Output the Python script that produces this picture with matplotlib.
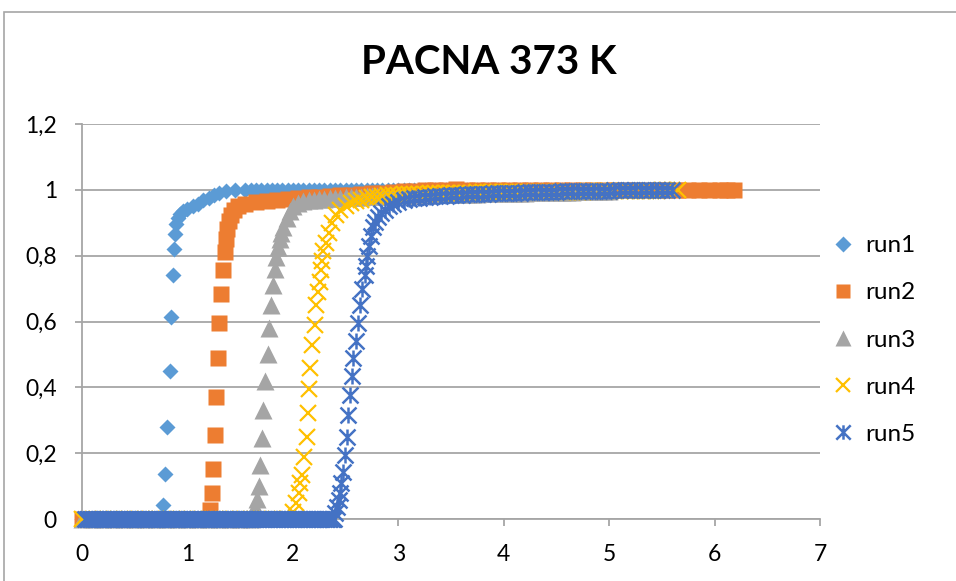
import matplotlib
matplotlib.use("Agg")
import matplotlib.pyplot as plt
from matplotlib.path import Path
from matplotlib.patches import Rectangle
from matplotlib.ticker import FuncFormatter

plt.rcParams['font.family'] = ['Lato', 'DejaVu Sans']

title = "PACNA 373 K"
labels = ["run1", "run2", "run3", "run4", "run5"]
colors = ["#5B9BD5", "#ED7D31", "#A5A5A5", "#FFC000", "#4472C4"]

# x of the points lying on y = 0 before each run takes off
run1_zero_x = [0.0, 0.05, 0.1, 0.15, 0.2, 0.25, 0.3, 0.35, 0.4, 0.45, 0.5, 0.55,
               0.6, 0.65, 0.7, 0.75]
run2_zero_x = [0.0, 0.1, 0.2, 0.3, 0.4, 0.5, 0.6, 0.7, 0.8, 0.9, 1.0, 1.1, 1.15]
run3_zero_x = [0.0, 0.1, 0.2, 0.3, 0.4, 0.5, 0.6, 0.7, 0.8, 0.9, 1.0, 1.1, 1.2,
               1.3, 1.4, 1.5, 1.6]
run4_zero_x = [0.0, 0.1, 0.2, 0.3, 0.4, 0.5, 0.6, 0.7, 0.8, 0.9, 1.0, 1.1, 1.2,
               1.3, 1.4, 1.5, 1.6, 1.7, 1.8, 1.9, 1.95]
run5_zero_x = [0.03, 0.045, 0.06, 0.075, 0.09, 0.105, 0.12, 0.135, 0.15, 0.165,
               0.18, 0.195, 0.21, 0.225, 0.24, 0.255, 0.27, 0.285, 0.30, 0.315,
               0.33, 0.345, 0.36, 0.375, 0.39, 0.405, 0.42, 0.435, 0.45, 0.465,
               0.48, 0.495, 0.51, 0.525, 0.54, 0.555, 0.57, 0.585, 0.60, 0.615,
               0.63, 0.645, 0.66, 0.675, 0.69, 0.705, 0.72, 0.735, 0.75, 0.765,
               0.78, 0.795, 0.81, 0.825, 0.84, 0.855, 0.87, 0.885, 0.90, 0.915,
               0.93, 0.945, 0.96, 0.975, 0.99, 1.005, 1.02, 1.035, 1.05, 1.065,
               1.08, 1.095, 1.11, 1.125, 1.14, 1.155, 1.17, 1.185, 1.20, 1.215,
               1.23, 1.245, 1.26, 1.275, 1.29, 1.305, 1.32, 1.335, 1.35, 1.365,
               1.38, 1.395, 1.41, 1.425, 1.44, 1.455, 1.47, 1.485, 1.50, 1.515,
               1.53, 1.545, 1.56, 1.575, 1.59, 1.605, 1.62, 1.635, 1.65, 1.665,
               1.68, 1.695, 1.71, 1.725, 1.74, 1.755, 1.77, 1.785, 1.80, 1.815,
               1.83, 1.845, 1.86, 1.875, 1.89, 1.905, 1.92, 1.935, 1.95, 1.965,
               1.98, 1.995, 2.01, 2.025, 2.04, 2.055, 2.07, 2.085, 2.10, 2.115,
               2.13, 2.145, 2.16, 2.175, 2.19, 2.205, 2.22, 2.235, 2.25, 2.265,
               2.28, 2.295, 2.31, 2.325, 2.34, 2.355, 2.37, 2.38, 2.39]

# rise and slow approach to 1 (x, y)
run1_pts = [(0.773, 0.043), (0.79, 0.136), (0.81, 0.278), (0.83, 0.45),
            (0.84, 0.615), (0.86, 0.742), (0.875, 0.82), (0.885, 0.865),
            (0.895, 0.895), (0.91, 0.915), (0.93, 0.928), (0.96, 0.937),
            (1.0, 0.943), (1.05, 0.95), (1.1, 0.958), (1.15, 0.968),
            (1.2, 0.976), (1.25, 0.985), (1.3, 0.99), (1.37, 0.995),
            (1.45, 0.998), (1.55, 1.0)]
run2_pts = [(1.21, 0.027), (1.23, 0.078), (1.24, 0.152), (1.26, 0.255),
            (1.27, 0.37), (1.29, 0.49), (1.30, 0.595), (1.32, 0.684),
            (1.34, 0.755), (1.355, 0.81), (1.365, 0.85), (1.375, 0.88),
            (1.39, 0.905), (1.41, 0.925), (1.44, 0.94), (1.48, 0.95),
            (1.55, 0.958), (1.65, 0.963), (1.75, 0.966), (1.85, 0.969),
            (1.95, 0.972), (2.05, 0.975), (2.15, 0.977), (2.25, 0.979),
            (2.35, 0.981), (2.45, 0.983), (2.55, 0.985), (2.65, 0.987),
            (2.75, 0.989), (2.85, 0.991), (2.95, 0.993), (3.05, 0.995),
            (3.15, 0.997), (3.25, 0.999), (3.35, 1.0), (3.45, 1.001),
            (3.55, 1.002)]
run3_pts = [(1.645, 0.037), (1.66, 0.06), (1.675, 0.1), (1.69, 0.165),
            (1.71, 0.245), (1.72, 0.33), (1.74, 0.42), (1.76, 0.5),
            (1.77, 0.58), (1.79, 0.65), (1.81, 0.71), (1.83, 0.76),
            (1.84, 0.795), (1.86, 0.825), (1.875, 0.85), (1.89, 0.87),
            (1.91, 0.888), (1.94, 0.915), (1.97, 0.935), (2.0, 0.952),
            (2.05, 0.96), (2.1, 0.965), (2.15, 0.968), (2.2, 0.97),
            (2.25, 0.972), (2.3, 0.973), (2.35, 0.974), (2.4, 0.975),
            (2.45, 0.976), (2.5, 0.977), (2.55, 0.978), (2.6, 0.979),
            (2.65, 0.979), (2.7, 0.98), (2.75, 0.98), (2.8, 0.981),
            (2.85, 0.981), (2.9, 0.982), (2.95, 0.982), (3.0, 0.983),
            (3.05, 0.983), (3.1, 0.984), (3.15, 0.984), (3.2, 0.985),
            (3.25, 0.985), (3.3, 0.985), (3.35, 0.986), (3.4, 0.986),
            (3.45, 0.986), (3.5, 0.987), (3.55, 0.987), (3.6, 0.987),
            (3.65, 0.988), (3.7, 0.988), (3.75, 0.988), (3.8, 0.989),
            (3.85, 0.989), (3.9, 0.989), (3.95, 0.99), (4.0, 0.99),
            (4.05, 0.99), (4.1, 0.991), (4.15, 0.991), (4.2, 0.991),
            (4.25, 0.992), (4.3, 0.992), (4.35, 0.992), (4.4, 0.993),
            (4.45, 0.993), (4.5, 0.993), (4.55, 0.994), (4.6, 0.994),
            (4.65, 0.994), (4.7, 0.995), (4.75, 0.995), (4.8, 0.995),
            (4.85, 0.996), (4.9, 0.996), (4.95, 0.996), (5.0, 0.997)]
run4_pts = [(2.0, 0.022), (2.03, 0.048), (2.06, 0.078), (2.07, 0.108),
            (2.09, 0.134), (2.11, 0.188), (2.13, 0.25), (2.14, 0.323),
            (2.15, 0.395), (2.165, 0.46), (2.18, 0.53), (2.21, 0.59),
            (2.22, 0.65), (2.24, 0.69), (2.26, 0.72), (2.27, 0.755),
            (2.28, 0.785), (2.29, 0.815), (2.31, 0.84), (2.34, 0.87),
            (2.37, 0.9), (2.41, 0.925), (2.45, 0.94), (2.5, 0.952),
            (2.55, 0.96), (2.6, 0.966), (2.65, 0.97), (2.7, 0.974),
            (2.75, 0.977), (2.8, 0.979), (2.85, 0.981), (2.9, 0.983),
            (2.95, 0.984), (3.0, 0.985), (3.05, 0.986), (3.1, 0.987),
            (3.15, 0.987), (3.2, 0.988), (3.25, 0.988), (3.3, 0.989),
            (3.35, 0.989), (3.4, 0.99), (3.45, 0.99), (3.5, 0.99),
            (3.55, 0.991), (3.6, 0.991), (3.65, 0.991), (3.7, 0.991),
            (3.75, 0.992), (3.8, 0.992), (3.85, 0.992), (3.9, 0.992),
            (3.95, 0.992), (4.0, 0.992), (4.05, 0.993), (4.1, 0.993),
            (4.15, 0.993), (4.2, 0.993), (4.25, 0.993), (4.3, 0.993),
            (4.35, 0.993), (4.4, 0.993), (4.45, 0.993), (4.5, 0.993),
            (4.55, 0.994), (4.6, 0.994), (4.65, 0.994), (4.7, 0.994),
            (4.75, 0.994), (4.8, 0.995), (4.85, 0.995), (4.9, 0.995),
            (4.95, 0.995), (5.0, 0.995), (5.05, 0.996), (5.1, 0.996),
            (5.15, 0.996), (5.2, 0.996), (5.25, 0.996), (5.3, 0.997),
            (5.35, 0.997), (5.4, 0.997), (5.45, 0.997), (5.5, 0.998),
            (5.55, 0.998), (5.6, 0.998), (5.65, 0.998)]
run5_pts = [(2.40, 0.018), (2.42, 0.037), (2.44, 0.058), (2.45, 0.078),
            (2.46, 0.108), (2.48, 0.144), (2.49, 0.195), (2.51, 0.25),
            (2.52, 0.316), (2.54, 0.377), (2.56, 0.433), (2.57, 0.49),
            (2.60, 0.54), (2.62, 0.595), (2.64, 0.65), (2.66, 0.70),
            (2.68, 0.74), (2.69, 0.77), (2.70, 0.80), (2.72, 0.83),
            (2.74, 0.86), (2.76, 0.886), (2.78, 0.903), (2.81, 0.917),
            (2.84, 0.93), (2.87, 0.94), (2.91, 0.95), (2.95, 0.958),
            (3.00, 0.964), (3.05, 0.968), (3.10, 0.971), (3.15, 0.974),
            (3.20, 0.976), (3.25, 0.978), (3.30, 0.979), (3.35, 0.98),
            (3.40, 0.981), (3.45, 0.982), (3.50, 0.983), (3.55, 0.984),
            (3.60, 0.985), (3.65, 0.986), (3.70, 0.987), (3.75, 0.987),
            (3.80, 0.988), (3.85, 0.988), (3.90, 0.989), (3.95, 0.989),
            (4.00, 0.99), (4.05, 0.99), (4.10, 0.991), (4.15, 0.991),
            (4.20, 0.992), (4.25, 0.992), (4.30, 0.993), (4.35, 0.993),
            (4.40, 0.994), (4.45, 0.994), (4.50, 0.994), (4.55, 0.995),
            (4.60, 0.995), (4.65, 0.995), (4.70, 0.996), (4.75, 0.996),
            (4.80, 0.996), (4.85, 0.997), (4.90, 0.997), (4.95, 0.997),
            (5.00, 0.997), (5.05, 0.998), (5.10, 0.998), (5.15, 0.998),
            (5.20, 0.998), (5.25, 0.999), (5.30, 0.999), (5.35, 0.999),
            (5.40, 0.999), (5.45, 1.0), (5.50, 1.0), (5.55, 1.0), (5.60, 1.0)]

# flat tail at y = 1 after the approach
run1_flat_x = [1.60, 1.65, 1.70, 1.75, 1.80, 1.85, 1.90, 1.95, 2.00, 2.05, 2.10,
               2.15, 2.20, 2.25, 2.30, 2.35, 2.40, 2.45, 2.50, 2.55, 2.60, 2.65,
               2.70, 2.75, 2.80, 2.85, 2.90, 2.95, 3.00, 3.05, 3.10, 3.15, 3.20,
               3.25, 3.30, 3.35, 3.40, 3.45, 3.50, 3.55, 3.60, 3.65, 3.70, 3.75,
               3.80, 3.85, 3.90, 3.95, 4.00, 4.05, 4.10, 4.15, 4.20, 4.25, 4.30,
               4.35, 4.40, 4.45, 4.50, 4.55]
run2_flat_x = [3.65, 3.75, 3.85, 3.95, 4.05, 4.15, 4.25, 4.35, 4.45, 4.55, 4.65,
               4.75, 4.85, 4.95, 5.05, 5.15, 5.25, 5.35, 5.45, 5.55, 5.65, 5.75,
               5.85, 5.95, 6.05, 6.12, 6.18]
run3_flat_x = []
run4_flat_x = []
run5_flat_x = []

zero_x = [run1_zero_x, run2_zero_x, run3_zero_x, run4_zero_x, run5_zero_x]
pts = [run1_pts, run2_pts, run3_pts, run4_pts, run5_pts]
flat_x = [run1_flat_x, run2_flat_x, run3_flat_x, run4_flat_x, run5_flat_x]

# excel style asterisk: an x with a vertical bar through it
star = Path([(-1, -1), (1, 1), (-1, 1), (1, -1), (0, -1), (0, 1)],
            [Path.MOVETO, Path.LINETO, Path.MOVETO, Path.LINETO,
             Path.MOVETO, Path.LINETO])
styles = [dict(marker='D', ms=8.6, mec='none'),
          dict(marker='s', ms=11.5, mec='none'),
          dict(marker='^', ms=12.5, mec='none'),
          dict(marker='x', ms=11, mew=1.6),
          dict(marker=star, ms=11.5, mew=1.8, mfc='none')]

fig = plt.figure(figsize=(9.56, 5.81), dpi=100)
ax = fig.add_axes([82/956, 1 - 519/581, (820 - 82)/956, (519 - 124)/581])

handles = []
for zx, p, fx, c, st, lab in zip(zero_x, pts, flat_x, colors, styles, labels):
    px = zx + [a for a, b in p] + fx
    py = [0.0] * len(zx) + [b for a, b in p] + [1.0] * len(fx)
    st = dict(st)
    if st.get('mec') != 'none':
        st['mec'] = c
    # markers sit on top of the axis line, like excel
    h, = ax.plot(px, py, ls='none', color=c, label=lab, clip_on=False,
                 zorder=3, **st)
    handles.append(h)

ax.set_xlim(0, 7)
ax.set_ylim(0, 1.2)
ax.set_xticks(range(0, 8))
ax.set_yticks([0, 0.2, 0.4, 0.6, 0.8, 1.0, 1.2])
fmt = FuncFormatter(lambda v, p: f"{v:g}".replace('.', ','))
ax.xaxis.set_major_formatter(fmt)
ax.yaxis.set_major_formatter(fmt)
ax.grid(axis='y', color='#A6A6A6', lw=1.3)
ax.set_axisbelow(True)
for s in ['top', 'right']:
    ax.spines[s].set_visible(False)
for s in ['left', 'bottom']:
    ax.spines[s].set_color('#A6A6A6')
    ax.spines[s].set_linewidth(1.3)
ax.tick_params(axis='both', colors='#A6A6A6', labelcolor='black',
               labelsize=16.5, length=5, width=1.3, direction='out', pad=13)

fig.text(489/956, 1 - 62/581, title, ha='center', va='center',
         fontsize=29, fontweight='bold')

leg = fig.legend(handles=handles, loc='center left',
                 bbox_to_anchor=(831/956, 1 - 340/581), frameon=False,
                 fontsize=17.5, handlelength=1.0, handletextpad=0.42,
                 labelspacing=1.07, borderpad=0, borderaxespad=0,
                 markerscale=0.9)

fig.add_artist(Rectangle((4/956, -0.1), 1.2, 1 - 12/581 + 0.1,
                         transform=fig.transFigure, fill=False,
                         ec='#A6A6A6', lw=1.2))

fig.savefig("out.png", dpi=100)
